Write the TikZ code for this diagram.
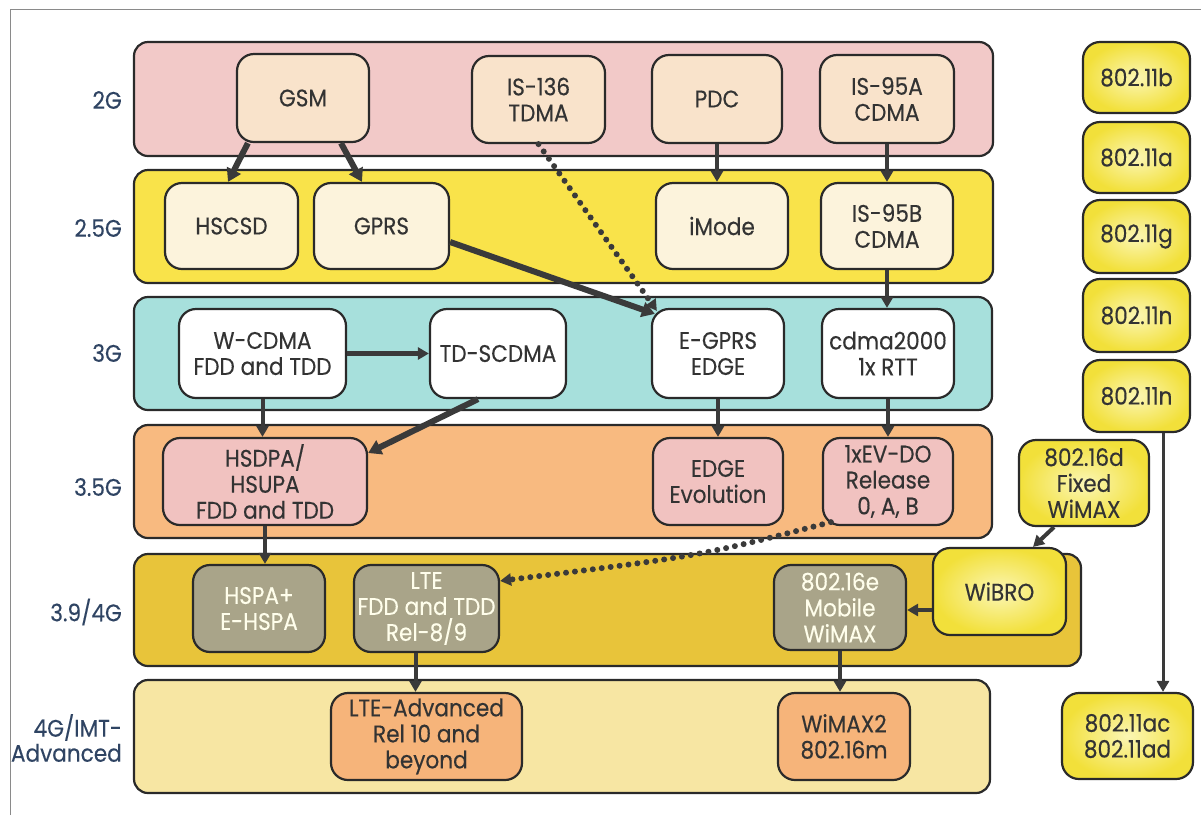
\documentclass[tikz,border=0pt]{standalone}
\usepackage{fontspec}
\setmainfont{Poppins}[FakeStretch=0.9,FakeBold=0.3]
\usetikzlibrary{arrows.meta,calc}
\definecolor{lineC}{HTML}{2A2A2A}
\definecolor{arrC}{HTML}{3A3A3A}
\definecolor{txtC}{HTML}{333333}
\definecolor{labC}{HTML}{2F4463}
\definecolor{frameC}{HTML}{8A8A8A}
\definecolor{bPink}{HTML}{F2C9C8}
\definecolor{bYel}{HTML}{F9E34A}
\definecolor{bCyan}{HTML}{A7E0DC}
\definecolor{bOrange}{HTML}{F8BA80}
\definecolor{bGold}{HTML}{E8C43A}
\definecolor{bLight}{HTML}{F7E6A3}
\definecolor{xPeach}{HTML}{F9E3CB}
\definecolor{xCream}{HTML}{FCF3DC}
\definecolor{xPink}{HTML}{F1C2C0}
\definecolor{xOlive}{HTML}{A9A489}
\definecolor{xOrange}{HTML}{F6B47A}
\definecolor{yIn}{HTML}{FBF6B4}
\definecolor{yOut}{HTML}{F2E03A}
\begin{document}
\begin{tikzpicture}[x=1pt,y=-1pt,
  >={Triangle[length=11pt,width=12pt]},
  band/.style={draw=lineC, line width=2.2pt, rounded corners=14pt, inner sep=0pt},
  box/.style={draw=lineC, line width=2.2pt, rounded corners=17pt, inner sep=0pt,
    align=center, text=txtC, font=\fontsize{24}{26}\selectfont},
  ybox/.style={box, inner color=yIn, outer color=yOut},
  gbox/.style={box, fill=xOlive, text=white!92!yellow},
  lab/.style={anchor=east, align=right, text=labC, inner sep=0pt, font=\fontsize{24}{25}\selectfont},
  arr/.style={draw=arrC, line width=4pt, ->},
  thk/.style={arr, line width=6pt, >={Triangle[length=13pt,width=15pt]}},
  dotarr/.style={draw=arrC, line width=6pt, line cap=round, dash pattern=on 0pt off 9pt, ->}
]
\useasboundingbox (0,0) rectangle (1201,815);
\fill[white] (0,0) rectangle (1201,815);
\draw[frameC, line width=1pt] (10,815) -- (10,9) -- (1201,9);

% bands
\node[band, fill=bPink,   minimum width=859pt, minimum height=114pt] (b2)  at (563.5,99) {};
\node[band, fill=bYel,    minimum width=859pt, minimum height=113pt] (b25) at (563.5,226.5) {};
\node[band, fill=bCyan,   minimum width=858pt, minimum height=113pt] (b3)  at (563,353.5) {};
\node[band, fill=bOrange, minimum width=858pt, minimum height=113pt] (b35) at (563,481.5) {};
\node[band, fill=bGold,   minimum width=947pt, minimum height=112pt] (b39) at (607.5,610) {};
\node[band, fill=bLight,  minimum width=856pt, minimum height=113pt] (b4)  at (562,736.5) {};

% labels
\node[lab] (l2)  at (122,100) {2G};
\node[lab] (l25) at (122,228) {2.5G};
\node[lab] (l3)  at (122,353) {3G};
\node[lab] (l35) at (122,487) {3.5G};
\node[lab] (l39) at (122,612) {3.9/4G};
\node[lab] (l4)  at (122,738) {4G/IMT-\\Advanced};

% 2G
\node[box, fill=xPeach, minimum width=132pt, minimum height=88pt] (GSM)   at (303,98) {GSM};
\node[box, fill=xPeach, minimum width=133pt, minimum height=87pt] (IS136) at (538.5,99.5) {IS-136\\TDMA};
\node[box, fill=xPeach, minimum width=130pt, minimum height=88pt] (PDC)   at (717,99) {PDC};
\node[box, fill=xPeach, minimum width=134pt, minimum height=88pt] (IS95A) at (887,99) {IS-95A\\CDMA};
% 2.5G
\node[box, fill=xCream, minimum width=133pt, minimum height=86pt] (HSCSD) at (231.5,226) {HSCSD};
\node[box, fill=xCream, minimum width=135pt, minimum height=86pt] (GPRS)  at (381.5,226) {GPRS};
\node[box, fill=xCream, minimum width=132pt, minimum height=86pt] (iMode) at (722,226) {iMode};
\node[box, fill=xCream, minimum width=132pt, minimum height=86pt] (IS95B) at (887,226) {IS-95B\\CDMA};
% 3G
\node[box, fill=white, minimum width=167pt, minimum height=89pt] (WCDMA) at (262.5,353.5) {W-CDMA\\FDD and TDD};
\node[box, fill=white, minimum width=136pt, minimum height=89pt] (TDS)   at (498,353.5) {TD-SCDMA};
\node[box, fill=white, minimum width=132pt, minimum height=89pt] (EGPRS) at (718,353.5) {E-GPRS\\EDGE};
\node[box, fill=white, minimum width=132pt, minimum height=89pt] (CDMA2k) at (888,353.5) {cdma2000\\1x RTT};
% 3.5G
\node[box, fill=xPink, minimum width=204pt, minimum height=87pt] (HSDPA) at (265,481.5) {HSDPA/\\HSUPA\\FDD and TDD};
\node[box, fill=xPink, minimum width=130pt, minimum height=87pt] (EDGEEvo) at (718,481.5) {EDGE\\Evolution};
\node[box, fill=xPink, minimum width=130pt, minimum height=87pt] (EVDO) at (888,481.5) {1xEV-DO\\Release\\0, A, B};
\node[ybox, minimum width=130pt, minimum height=86pt] (F16d) at (1084,483) {802.16d\\Fixed\\WiMAX};
% 3.9/4G
\node[gbox, minimum width=132pt, minimum height=87pt] (HSPA) at (259,608.5) {HSPA+\\E-HSPA};
\node[gbox, minimum width=145pt, minimum height=87pt] (LTE)  at (426.5,608.5) {LTE\\FDD and TDD\\Rel-8/9};
\node[gbox, minimum width=132pt, minimum height=85pt] (M16e) at (840,607.5) {802.16e\\Mobile\\WiMAX};
\node[ybox, minimum width=133pt, minimum height=87pt] (WiBRO) at (999.5,591.5) {WiBRO};
% 4G
\node[box, fill=xOrange, minimum width=191pt, minimum height=87pt] (LTEA) at (426.5,736.5) {LTE-Advanced\\Rel 10 and\\beyond};
\node[box, fill=xOrange, minimum width=132pt, minimum height=87pt] (WiMAX2) at (844,736.5) {WiMAX2\\802.16m};
% 802.11 column
\node[ybox, minimum width=107pt, minimum height=71pt] (W11b)  at (1136.5,77.5) {802.11b};
\node[ybox, minimum width=107pt, minimum height=71pt] (W11a)  at (1136.5,157.5) {802.11a};
\node[ybox, minimum width=107pt, minimum height=73pt] (W11g)  at (1136.5,236.5) {802.11g};
\node[ybox, minimum width=107pt, minimum height=73pt] (W11n1) at (1136.5,315.5) {802.11n};
\node[ybox, minimum width=107pt, minimum height=72pt] (W11n2) at (1136.5,396) {802.11n};
\node[ybox, minimum width=131pt, minimum height=86pt] (W11ac) at (1127.5,736) {802.11ac\\802.11ad};

% connectors
\draw[thk] ($(GSM.south west)+(12,0)$) -- ($(HSCSD.north)+(-3.5,0)$);
\draw[thk] ($(GSM.south)+(38,0)$) -- ($(GPRS.north)+(-19.5,0)$);
\draw[thk] ($(GPRS.east)+(0,16)$) -- ($(EGPRS.north west)+(4,6)$);
\draw[dotarr] (IS136.south) -- ($(EGPRS.north west)+(6,3)$);
\draw[arr] (PDC.south) -- (PDC.south |- iMode.north);
\draw[arr] (IS95A.south) -- (IS95A.south |- IS95B.north);
\draw[arr] (IS95B.south) -- (IS95B.south |- CDMA2k.north);
\draw[arr, line width=5pt] (WCDMA.east) -- (TDS.west);
\draw[arr] (WCDMA.south) -- (WCDMA.south |- HSDPA.north);
\draw[thk] ($(TDS.south)+(-20,0)$) -- ($(HSDPA.east)+(0,-28.5)$);
\draw[arr] (EGPRS.south) -- (EGPRS.south |- EDGEEvo.north);
\draw[arr] (CDMA2k.south) -- (CDMA2k.south |- EVDO.north);
\draw[arr] (HSDPA.south) -- (HSDPA.south |- HSPA.north);
\coordinate (evs) at ($(EVDO.south west)+(9,-4)$);
\coordinate (lte) at ($(LTE.north east)+(0,17)$);
\draw[dotarr] (evs) .. controls (700,556) .. (lte);
\coordinate (ltes) at ($(LTE.south)+(-11,0)$);
\draw[arr] (ltes) -- (ltes |- LTEA.north);
\draw[arr] (M16e.south) -- (M16e.south |- WiMAX2.north);
\coordinate (wib) at ($(WiBRO.west)+(0,18.5)$);
\draw[arr] (wib) -- (wib -| M16e.east);
\draw[arr] ($(F16d.south)+(-30,0)$) -- ($(WiBRO.north)+(33.5,0)$);
\coordinate (w11) at ($(W11n2.south)+(26.5,0)$);
\draw[arr, line width=3pt] (w11) -- (w11 |- W11ac.north);
\end{tikzpicture}
\end{document}
